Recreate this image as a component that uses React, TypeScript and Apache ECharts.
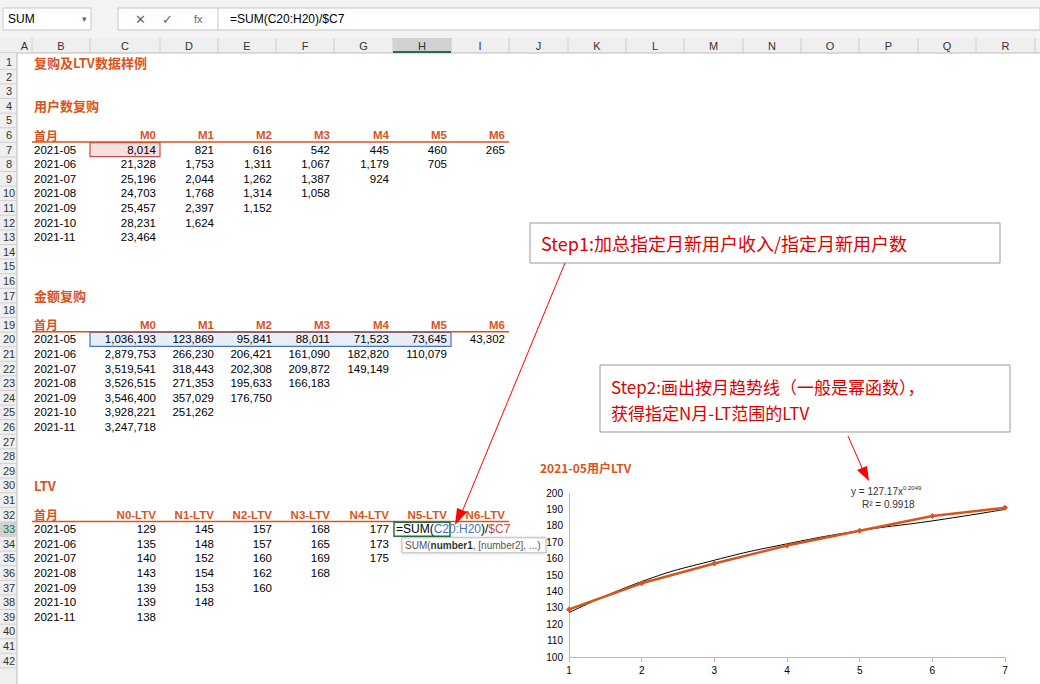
import * as echarts from "echarts";
import { useEffect, useRef } from "react";

const months = ["2021-05", "2021-06", "2021-07", "2021-08", "2021-09", "2021-10", "2021-11"];
const userHead = ["首月", "M0", "M1", "M2", "M3", "M4", "M5", "M6"];
const userRows = [
	["8,014", "821", "616", "542", "445", "460", "265"],
	["21,328", "1,753", "1,311", "1,067", "1,179", "705"],
	["25,196", "2,044", "1,262", "1,387", "924"],
	["24,703", "1,768", "1,314", "1,058"],
	["25,457", "2,397", "1,152"],
	["28,231", "1,624"],
	["23,464"],
];
const moneyRows = [
	["1,036,193", "123,869", "95,841", "88,011", "71,523", "73,645", "43,302"],
	["2,879,753", "266,230", "206,421", "161,090", "182,820", "110,079"],
	["3,519,541", "318,443", "202,308", "209,872", "149,149"],
	["3,526,515", "271,353", "195,633", "166,183"],
	["3,546,400", "357,029", "176,750"],
	["3,928,221", "251,262"],
	["3,247,718"],
];
const ltvHead = ["首月", "N0-LTV", "N1-LTV", "N2-LTV", "N3-LTV", "N4-LTV", "N5-LTV", "N6-LTV"];
const ltvRows = [
	["129", "145", "157", "168", "177"],
	["135", "148", "157", "165", "173"],
	["140", "152", "160", "169", "175"],
	["143", "154", "162", "168"],
	["139", "153", "160"],
	["139", "148"],
	["138"],
];
const colNames = ["A", "B", "C", "D", "E", "F", "G", "H", "I", "J", "K", "L", "M", "N", "O", "P", "Q", "R"];
const colEdges = [17, 32, 90, 160, 218, 276, 334, 393, 451, 509, 568, 626, 684, 743, 801, 859, 918, 976, 1035];

// 2021-05 LTV curve and trend line
const xs = [1, 2, 3, 4, 5, 6, 7];
const ltv0505 = [129, 145, 157, 168, 177, 186, 191];
const trend = [127, 146, 159, 169, 177, 183, 190];

const ORANGE = "#d9541c";
const CJK = "'Noto Sans CJK SC', 'Liberation Sans', sans-serif";
const FONT = "'Liberation Sans', Arial, sans-serif";

const rowY = (n: number) => 62 + (n - 1) * 14.6;

export default function App() {
	const chartRef = useRef<HTMLDivElement>(null);

	useEffect(() => {
		document.body.style.margin = "0";
		if (!chartRef.current) return;
		const chart = echarts.init(chartRef.current, null, { renderer: "svg" });
		const g: any[] = [];
		const txt = (x: number, y: number, text: string, o: any = {}) =>
			g.push({
				type: "text",
				x,
				y,
				style: {
					text,
					fill: o.fill || "#000",
					font: `${o.bold ? "bold " : ""}${o.size || 11.5}px ${o.font || FONT}`,
					align: o.align || "left",
					verticalAlign: "middle",
				},
				z: o.z || 2,
			});
		const rect = (x: number, y: number, w: number, h: number, style: any, z = 1) =>
			g.push({ type: "rect", shape: { x, y, width: w, height: h }, style, z });
		const line = (x1: number, y1: number, x2: number, y2: number, stroke: string, lw = 1, z = 1) =>
			g.push({ type: "line", shape: { x1, y1, x2, y2 }, style: { stroke, lineWidth: lw }, z });

		// toolbar
		rect(0, 0, 1040, 38, { fill: "#f3f3f3" });
		rect(3, 8, 88, 22, { fill: "#fff", stroke: "#c6c6c6" });
		txt(8, 19, "SUM", { size: 12 });
		txt(82, 19, "▾", { size: 9, fill: "#666" });
		rect(118, 8, 922, 22, { fill: "#fff", stroke: "#c6c6c6" });
		txt(135, 19, "✕", { size: 13, fill: "#666" });
		txt(162, 19, "✓", { size: 13, fill: "#666" });
		txt(194, 19, "fx", { size: 11, fill: "#666" });
		line(218, 8, 218, 30, "#c6c6c6");
		txt(230, 19, "=SUM(C20:H20)/$C7", { size: 12 });
		// column header
		rect(0, 38, 1040, 15, { fill: "#efefef" });
		line(0, 53, 1040, 53, "#bbb");
		colNames.forEach((c, i) => {
			const x0 = colEdges[i];
			const x1 = colEdges[i + 1];
			if (c === "H") rect(x0, 38, x1 - x0, 15, { fill: "#d2d2d2" });
			txt((x0 + x1) / 2, 46, c, { align: "center", size: 11, fill: "#333" });
			line(x1, 38, x1, 53, "#ccc");
		});
		line(393, 52, 451, 52, "#217346", 2, 3);
		// row headers
		rect(0, 53, 17, 631, { fill: "#efefef" });
		line(17, 53, 17, 684, "#bbb");
		for (let r = 1; r <= 42; r++) {
			if (r === 33) rect(0, rowY(r) - 7.3, 17, 14.6, { fill: "#d2d2d2" });
			txt(9, rowY(r), String(r), { align: "center", size: 11, fill: r === 33 ? "#217346" : "#333" });
			line(0, rowY(r) + 7.3, 17, rowY(r) + 7.3, "#d0d0d0");
		}

		const cellRight = (ci: number) => colEdges[ci + 3] - 4; // ci 0 = column C
		const table = (titleRow: number, title: string, head: string[], rows: string[][]) => {
			txt(34, rowY(titleRow), title, { bold: true, fill: ORANGE, size: 13, font: CJK });
			const hr = titleRow + 2;
			txt(34, rowY(hr), head[0], { bold: true, fill: ORANGE, font: CJK, size: 12 });
			head.slice(1).forEach((h, i) =>
				txt(cellRight(i), rowY(hr), h, { bold: true, fill: ORANGE, align: "right" }),
			);
			line(32, rowY(hr) + 7, 509, rowY(hr) + 7, ORANGE, 1.5);
			rows.forEach((row, ri) => {
				txt(34, rowY(hr + 1 + ri), months[ri]);
				row.forEach((v, ci) => txt(cellRight(ci), rowY(hr + 1 + ri), v, { align: "right" }));
			});
		};
		txt(34, rowY(1), "复购及LTV数据样例", { bold: true, fill: ORANGE, size: 13, font: CJK });
		rect(90, rowY(7) - 7, 70, 14, { fill: "#f9dede", stroke: "#c0504d", lineWidth: 1.2 });
		rect(90, rowY(20) - 7, 361, 14, { fill: "#e8eef8", stroke: "#4472c4", lineWidth: 1.2 });
		table(4, "用户数复购", userHead, userRows);
		table(17, "金额复购", userHead, moneyRows);
		table(30, "LTV", ltvHead, ltvRows);

		// active cell H33 with formula
		rect(394, rowY(33) - 7, 56, 14, { fill: "#fff", stroke: "#217346", lineWidth: 1.5 }, 3);
		g.push({
			type: "text",
			x: 396,
			y: rowY(33),
			style: {
				text: "{a|=SUM(}{b|C20:H20}{a|)/}{c|$C7}",
				verticalAlign: "middle",
				rich: {
					a: { fill: "#000", font: `12px ${FONT}` },
					b: { fill: "#4472c4", font: `12px ${FONT}` },
					c: { fill: "#c0504d", font: `12px ${FONT}` },
				},
			},
			z: 4,
		});
		rect(402, rowY(34) - 6, 144, 15, { fill: "#fff", stroke: "#bbb", shadowBlur: 3, shadowColor: "rgba(0,0,0,0.2)" }, 5);
		g.push({
			type: "text",
			x: 405,
			y: rowY(34) + 1.5,
			style: {
				text: "{a|SUM(}{b|number1}{a|, [number2], ...)}",
				verticalAlign: "middle",
				rich: {
					a: { fill: "#555", font: `10px ${FONT}` },
					b: { fill: "#333", font: `bold 10px ${FONT}` },
				},
			},
			z: 6,
		});

		// callout boxes
		rect(530, 223, 470, 40, { fill: "#fff", stroke: "#999" }, 6);
		txt(541, 243, "Step1:加总指定月新用户收入/指定月新用户数", { size: 18, fill: "#d00", font: CJK, z: 7 });
		rect(600, 365, 410, 67, { fill: "#fff", stroke: "#999" }, 6);
		txt(611, 386, "Step2:画出按月趋势线（一般是幂函数），", { size: 17, fill: "#d00", font: CJK, z: 7 });
		txt(611, 412, "获得指定N月-LT范围的LTV", { size: 17, fill: "#d00", font: CJK, z: 7 });
		// arrows
		line(565, 263, 462, 512, "#f00", 1, 7);
		g.push({ type: "polygon", shape: { points: [[455, 525], [457, 508], [467, 512]] }, style: { fill: "#f00" }, z: 7 });
		line(848, 436, 863, 470, "#f00", 1, 7);
		g.push({ type: "polygon", shape: { points: [[869, 481], [857, 470], [867, 466]] }, style: { fill: "#f00" }, z: 7 });

		// chart title & trend label
		txt(540, 467, "2021-05用户LTV", { bold: true, fill: ORANGE, size: 12, font: CJK });
		g.push({
			type: "text",
			x: 851,
			y: 491,
			style: {
				text: "{a|y = 127.17x}{s|0.2049}",
				verticalAlign: "middle",
				rich: { a: { font: `10px ${FONT}`, fill: "#333" }, s: { font: `6px ${FONT}`, fill: "#333", verticalAlign: "top", padding: [0, 0, 6, 0] } },
			},
			z: 3,
		});
		txt(862, 504, "R² = 0.9918", { size: 10, fill: "#333" });

		chart.setOption({
			animation: false,
			grid: { left: 569, top: 493, width: 436, height: 164 },
			xAxis: {
				type: "value",
				min: 1,
				max: 7,
				interval: 1,
				axisLine: { lineStyle: { color: "#bbb" } },
				axisTick: { show: true, lineStyle: { color: "#bbb" } },
				axisLabel: { color: "#000", fontSize: 10, fontFamily: FONT },
				splitLine: { show: false },
			},
			yAxis: {
				type: "value",
				min: 100,
				max: 200,
				interval: 10,
				axisLine: { show: true, lineStyle: { color: "#bbb" } },
				axisTick: { show: false },
				axisLabel: { color: "#000", fontSize: 10, fontFamily: FONT, margin: 6 },
				splitLine: { show: false },
			},
			graphic: g,
			series: [
				{
					type: "line",
					data: xs.map((x, i) => [x, trend[i]]),
					smooth: true,
					symbol: "none",
					lineStyle: { color: "#000", width: 1 },
					z: 2,
				},
				{
					type: "line",
					data: xs.map((x, i) => [x, ltv0505[i]]),
					symbol: "diamond",
					symbolSize: 6,
					lineStyle: { color: "#d9541c", width: 2.5 },
					itemStyle: { color: "#d9541c" },
					z: 3,
				},
			],
		});
		return () => chart.dispose();
	}, []);

	return <div ref={chartRef} style={{ width: 1040, height: 684 }} />;
}
